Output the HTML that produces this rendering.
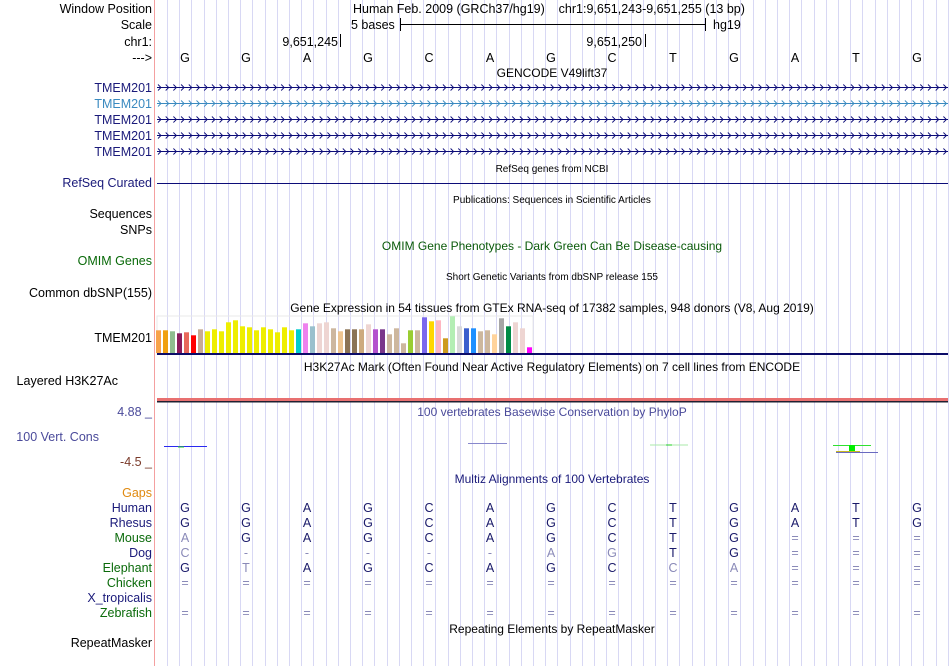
<!DOCTYPE html>
<html><head><meta charset="utf-8"><style>
html,body{margin:0;padding:0;background:#fff;}
svg{display:block;font-family:"Liberation Sans",sans-serif;}
</style></head><body>
<svg id="s" width="950" height="666" xmlns="http://www.w3.org/2000/svg">
<g id="grid"></g>
<line x1="154.5" y1="0" x2="154.5" y2="666" stroke="#f4a0a0" stroke-width="1"/>
<g font-size="12.5" text-anchor="end">
<text x="152" y="13" fill="#000">Window Position</text>
<text x="152" y="29" fill="#000">Scale</text>
<text x="152" y="46" fill="#000">chr1:</text>
<text x="152" y="62" fill="#000">---&gt;</text>
<text x="152" y="92" fill="#1a1a7a">TMEM201</text>
<text x="152" y="108" fill="#3a8ac0">TMEM201</text>
<text x="152" y="124" fill="#1a1a7a">TMEM201</text>
<text x="152" y="140" fill="#1a1a7a">TMEM201</text>
<text x="152" y="156" fill="#1a1a7a">TMEM201</text>
<text x="152" y="187" fill="#1a1a7a">RefSeq Curated</text>
<text x="152" y="218" fill="#000">Sequences</text>
<text x="152" y="234" fill="#000">SNPs</text>
<text x="152" y="265" fill="#0a6a0a">OMIM Genes</text>
<text x="152" y="297" fill="#000">Common dbSNP(155)</text>
<text x="152" y="342" fill="#000">TMEM201</text>
<text x="118" y="385" fill="#000">Layered H3K27Ac</text>
<text x="152" y="416" fill="#4a4a9a">4.88 _</text>
<text x="99" y="441" fill="#4a4a9a">100 Vert. Cons</text>
<text x="152" y="466" fill="#7a3a2a">-4.5 _</text>
<text x="152" y="497" fill="#e08a10">Gaps</text>
<text x="152" y="512" fill="#1a1a7a">Human</text>
<text x="152" y="527" fill="#1a1a7a">Rhesus</text>
<text x="152" y="542" fill="#0a6a0a">Mouse</text>
<text x="152" y="557" fill="#1a1a7a">Dog</text>
<text x="152" y="572" fill="#0a6a0a">Elephant</text>
<text x="152" y="587" fill="#0a6a0a">Chicken</text>
<text x="152" y="602" fill="#1a1a7a">X_tropicalis</text>
<text x="152" y="617" fill="#0a6a0a">Zebrafish</text>
<text x="152" y="647" fill="#000">RepeatMasker</text>
</g>
<g font-size="12.5" fill="#000">
<text x="353" y="13">Human Feb. 2009 (GRCh37/hg19)&#160;&#160;&#160;&#160;chr1:9,651,243-9,651,255 (13 bp)</text>
<text x="351" y="29">5 bases</text>
<line x1="400.5" y1="18" x2="400.5" y2="31" stroke="#000"/>
<line x1="400" y1="24.5" x2="706" y2="24.5" stroke="#000"/>
<line x1="705.5" y1="18" x2="705.5" y2="31" stroke="#000"/>
<text x="713" y="29">hg19</text>
<text x="338" y="46" text-anchor="end">9,651,245</text>
<line x1="340.5" y1="34" x2="340.5" y2="47" stroke="#000"/>
<text x="642" y="46" text-anchor="end">9,651,250</text>
<line x1="645.5" y1="34" x2="645.5" y2="47" stroke="#000"/>
</g>
<g id="bases" font-size="12.5" text-anchor="middle"></g>
<g font-size="12" text-anchor="middle">
<text x="552" y="77" fill="#000">GENCODE V49lift37</text>
<text x="552" y="172" font-size="10" fill="#000">RefSeq genes from NCBI</text>
<text x="552" y="203" font-size="10" fill="#000">Publications: Sequences in Scientific Articles</text>
<text x="552" y="250" fill="#0a5a0a">OMIM Gene Phenotypes - Dark Green Can Be Disease-causing</text>
<text x="552" y="280" font-size="10" fill="#000">Short Genetic Variants from dbSNP release 155</text>
<text x="552" y="312" fill="#000">Gene Expression in 54 tissues from GTEx RNA-seq of 17382 samples, 948 donors (V8, Aug 2019)</text>
<text x="552" y="371" fill="#000">H3K27Ac Mark (Often Found Near Active Regulatory Elements) on 7 cell lines from ENCODE</text>
<text x="552" y="416" fill="#4a4a9a">100 vertebrates Basewise Conservation by PhyloP</text>
<text x="552" y="483" fill="#1a1a7a">Multiz Alignments of 100 Vertebrates</text>
<text x="552" y="633" fill="#000">Repeating Elements by RepeatMasker</text>
</g>
<g id="genes"></g>
<line x1="157" y1="183.5" x2="948" y2="183.5" stroke="#0c0c78"/>
<rect x="157" y="316" width="376" height="38" fill="none" stroke="#e8e8e8"/>
<g id="gtex"></g>
<rect x="157" y="353" width="791" height="2" fill="#0c0c68"/>
<rect x="157" y="398" width="791" height="3" fill="#e87070"/>
<rect x="157" y="401" width="791" height="1.5" fill="#202030"/>
<g>
<line x1="164" y1="446.5" x2="207" y2="446.5" stroke="#2a2af0"/>
<line x1="178" y1="447" x2="184" y2="447" stroke="#2ad02a"/>
<line x1="468" y1="443.5" x2="507" y2="443.5" stroke="#8888cc"/>
<line x1="650" y1="445" x2="688" y2="445" stroke="#aaeaaa"/>
<line x1="666" y1="445" x2="672" y2="445" stroke="#20d020"/>
<line x1="833" y1="445.5" x2="871" y2="445.5" stroke="#30e030"/>
<rect x="849" y="445" width="6" height="7" fill="#00ee00"/>
<line x1="836" y1="452.5" x2="878" y2="452.5" stroke="#6a6ac0"/>
<line x1="836" y1="451.5" x2="860" y2="451.5" stroke="#c8b820"/>
</g>
<g id="maf" font-size="12.5" text-anchor="middle"></g>
</svg>
<script>
var ns="http://www.w3.org/2000/svg";
var baseX0=185, basePitch=61;
var refBases=["G","G","A","G","C","A","G","C","T","G","A","T","G"];
var species=["Human","Rhesus","Mouse","Dog","Elephant","Chicken","X_tropicalis","Zebrafish"];
var rowY=[512,527,542,557,572,587,602,617];
var alignRows=[
"GGAGCAGCTGATG",
"GGAGCAGCTGATG",
"aGAGCAGCTG===",
"c-----agTG===",
"GtAGCAGCca===",
"=============",
"             ",
"============="];
var gtexValues=[22.7,22.7,21.7,19.7,20.7,17.7,23.7,21.7,23.7,21.7,30.7,32.7,26.7,25.7,22.7,25.7,23.7,20.7,25.7,22.7,23.7,29.7,26.7,29.7,30.7,24.7,21.7,23.7,23.7,23.7,28.7,23.7,23.7,18.7,24.7,9.7,22.7,22.7,35.7,31.7,32.7,14.7,36.7,26.7,24.7,24.7,21.7,22.7,18.7,34.7,26.7,30.7,24.7,5.7];
var gtexColors=["#f7a24a","#f0a010","#8fbc8f","#8b1a5a","#e8685a","#ff0000","#c8ab94","#eeee00","#eeee00","#eeee00","#eeee00","#eeee00","#eeee00","#eeee00","#eeee00","#eeee00","#eeee00","#eeee00","#eeee00","#eeee00","#00cdcd","#ee82ee","#9ac0cd","#eed5d2","#eed5d2","#cdb79e","#eec591","#8b7355","#8b7355","#cdaa7d","#eed5d2","#b452cd","#7a378b","#cdb79e","#cdb79e","#cdb79e","#9acd32","#cdb79e","#7b68ee","#ffd700","#ffb6c1","#cd9b1d","#b4eeb4","#d9d9d9","#3a5fcd","#1e90ff","#cdb79e","#cdb79e","#ffd39b","#a6a6a6","#008b45","#eed5d2","#eed5d2","#ff00ff"];
function el(t,a,p){var e=document.createElementNS(ns,t);for(var k in a)e.setAttribute(k,a[k]);p.appendChild(e);return e;}
var grid=document.getElementById("grid");
for(var gx=167;gx<950;gx+=12.2){
 var l=el("line",{x1:Math.round(gx)+0.5,y1:0,x2:Math.round(gx)+0.5,y2:666,stroke:"#d8d8f4"},grid);
 
 
}
var bg=document.getElementById("bases");
refBases.forEach(function(b,i){
 var t=el("text",{x:baseX0+i*basePitch,y:62,fill:"#000"},bg);t.textContent=b;
 
 
});
var genes=document.getElementById("genes");
[92,108,124,140,156].forEach(function(y,r){
 var c=r==1?"#3a8ac0":"#0c0c78";
 var ln=el("line",{x1:157,y1:y-4.5,x2:948,y2:y-4.5,stroke:c},genes);
 
 
 var d="";for(var x=158;x<946;x+=7.7){d+="M"+(x).toFixed(1)+" "+(y-7.5)+"l3 3l-3 3";}
 var p=el("path",{d:d,stroke:c,fill:"none","stroke-width":"0.9"},genes);
 
 
});
var gtex=document.getElementById("gtex");
var gBase=353, gX0=156, gPitch=7, gScale=1;
gtexValues.forEach(function(v,i){
 var h=v*gScale;
 var r=el("rect",{x:gX0+i*gPitch,y:gBase-h,width:5,height:h,fill:gtexColors[i]},gtex);
 
 
});
var maf=document.getElementById("maf");
alignRows.forEach(function(row,r){
 for(var i=0;i<row.length;i++){
  var ch=row[i]; if(ch==" ")continue;
  var light=(ch>="a"&&ch<="z")||ch=="="||ch=="-";
  var t=el("text",{x:baseX0+i*basePitch,y:rowY[r],fill:light?"#8a8ab8":"#1a1a6a"},maf);
  t.textContent=ch.toUpperCase();
  
  
 }
});
</script>
</body></html>
